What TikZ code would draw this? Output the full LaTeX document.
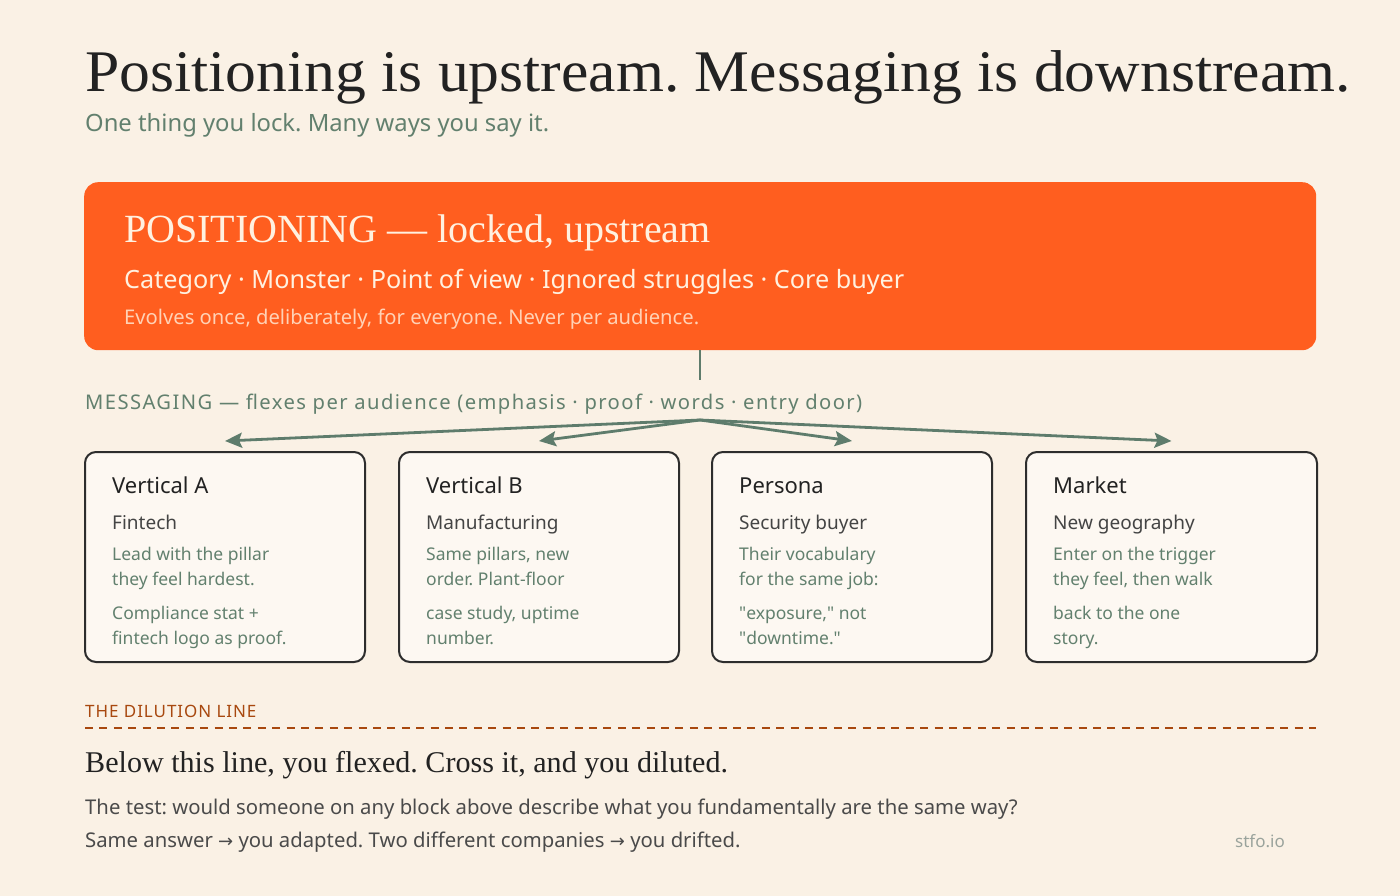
\documentclass[tikz,border=0pt]{standalone}
\usepackage{fontspec}
\setmainfont{Liberation Serif}
\setsansfont{Noto Sans}
\newfontfamily\arrowfont{DejaVu Sans}
\usepackage{tikz}
\usetikzlibrary{arrows.meta,positioning}
\usepackage{xcolor}
\definecolor{paper}{HTML}{FAF1E5}
\definecolor{ink}{HTML}{222222}
\definecolor{ink2}{HTML}{444444}
\definecolor{body}{HTML}{4A4A4A}
\definecolor{sage}{HTML}{62806E}
\definecolor{sage2}{HTML}{5E7C6C}
\definecolor{flame}{HTML}{FF5E1F}
\definecolor{cream}{HTML}{FFF1E0}
\definecolor{peach}{HTML}{FFD2B6}
\definecolor{card}{HTML}{FDF8F2}
\definecolor{rust}{HTML}{A8480F}
\definecolor{faint}{HTML}{9AA39C}
\newcommand{\fs}[1]{\fontsize{#1}{#1}\selectfont}
\newcommand{\arr}{{\arrowfont\fs{18}→}}
\newcommand{\qq}{\textquotedbl}
\frenchspacing

\begin{document}
\begin{tikzpicture}[x=1pt, y=-1pt, inner sep=0pt,
  txt/.style={anchor=base west, inner sep=0pt},
  cardbox/.style={draw=ink!95, line width=2pt, rounded corners=11pt, fill=card, anchor=north west, minimum height=210pt},
  head/.style={txt, font=\sffamily\fs{22}, text=ink},
  sub/.style={txt, font=\sffamily\fs{19}, text=ink2},
  desc/.style={txt, font=\sffamily\fs{17.5}, text=sage},
  fan/.style={-{Stealth[length=17pt, width=15pt, inset=3pt]}, sage2, line width=2.8pt}]
  \path[fill=paper, use as bounding box] (0,0) rectangle (1400,896);
  \node[txt, font=\rmfamily\fs{59}\addfontfeature{FakeStretch=1.045}, text=ink] (title) at (85,92) {Positioning is upstream. Messaging is downstream.};
  \node[txt, font=\sffamily\fs{23.8}, text=sage] (subtitle) at (85,132) {One thing you lock. Many ways you say it.};
  % the locked block
  \node[fill=flame, rounded corners=14pt, minimum width=1232pt, minimum height=168pt, anchor=north west] (pos) at (84,182) {};
  \node[txt, font=\rmfamily\fs{40}, text=cream] (posT) at (124,243) {POSITIONING — locked, upstream};
  \node[txt, font=\sffamily\fs{25.2}, text=cream] (posL) at (124,288) {Category · Monster · Point of view · Ignored struggles · Core buyer};
  \node[txt, font=\sffamily\fs{20.2}, text=peach] (posN) at (124,324) {Evolves once, deliberately, for everyone. Never per audience.};
  \coordinate (stem) at (700,380);
  \draw[sage2, line width=2pt] (pos.south -| stem) -- (stem);
  \node[txt, font=\sffamily\fs{20.2}\addfontfeature{LetterSpace=7}, text=sage] (msg) at (85,409) {MESSAGING — flexes per audience (emphasis · proof · words · entry door)};
  % the four audiences
  \node[cardbox, minimum width=280pt] (cardA) at (84,451) {};
  \node[cardbox, minimum width=280pt] (cardB) at (398,451) {};
  \node[cardbox, minimum width=280pt] (cardC) at (711,451) {};
  \node[cardbox, minimum width=291pt] (cardD) at (1025,451) {};
  \coordinate (hub) at (700,420);
  \draw[fan] (hub) -- ([yshift=10pt]cardA.north); \draw[fan] (hub) -- ([yshift=10pt]cardB.north);
  \draw[fan] (hub) -- ([yshift=10pt]cardC.north); \draw[fan] (hub) -- ([yshift=10pt]cardD.north);
  \node[head] (hA) at (112,493) {Vertical A}; \node[sub] (sA) at (112,529) {Fintech};
  \node[desc] (dA1) at (112,560) {Lead with the pillar}; \node[desc] (dA2) at (112,585) {they feel hardest.};
  \node[desc] (dA3) at (112,619) {Compliance stat +}; \node[desc] (dA4) at (112,644) {fintech logo as proof.};
  \node[head] (hB) at (426,493) {Vertical B}; \node[sub] (sB) at (426,529) {Manufacturing};
  \node[desc] (dB1) at (426,560) {Same pillars, new}; \node[desc] (dB2) at (426,585) {order. Plant-floor};
  \node[desc] (dB3) at (426,619) {case study, uptime}; \node[desc] (dB4) at (426,644) {number.};
  \node[head] (hC) at (739,493) {Persona}; \node[sub] (sC) at (739,529) {Security buyer};
  \node[desc] (dC1) at (739,560) {Their vocabulary}; \node[desc] (dC2) at (739,585) {for the same job:};
  \node[desc] (dC3) at (739,619) {\qq exposure,\qq{} not}; \node[desc] (dC4) at (739,644) {\qq downtime.\qq};
  \node[head] (hD) at (1053,493) {Market}; \node[sub] (sD) at (1053,529) {New geography};
  \node[desc] (dD1) at (1053,560) {Enter on the trigger}; \node[desc] (dD2) at (1053,585) {they feel, then walk};
  \node[desc] (dD3) at (1053,619) {back to the one}; \node[desc] (dD4) at (1053,644) {story.};
  % dilution line
  \node[txt, font=\sffamily\fs{17}\addfontfeature{LetterSpace=5.5}, text=rust] (dil) at (85,717) {THE DILUTION LINE};
  \coordinate (dilL) at (85,728); \coordinate (dilR) at (1316,728);
  \draw[rust, line width=2.5pt, dash pattern=on 8pt off 6.4pt] (dilL) -- (dilR);
  \node[txt, font=\rmfamily\fs{30.1}, text=ink] (below) at (85,772) {Below this line, you flexed. Cross it, and you diluted.};
  \node[txt, font=\sffamily\fs{20.3}, text=body] (test) at (85,814) {The test: would someone on any block above describe what you fundamentally are the same way?};
  \node[txt, font=\sffamily\fs{20.3}, text=body] (answer) at (85,847) {Same answer \arr{} you adapted. Two different companies \arr{} you drifted.};
  \node[txt, font=\sffamily\fs{17}, text=faint] (site) at (1235,847) {stfo.io};
\end{tikzpicture}
\end{document}
